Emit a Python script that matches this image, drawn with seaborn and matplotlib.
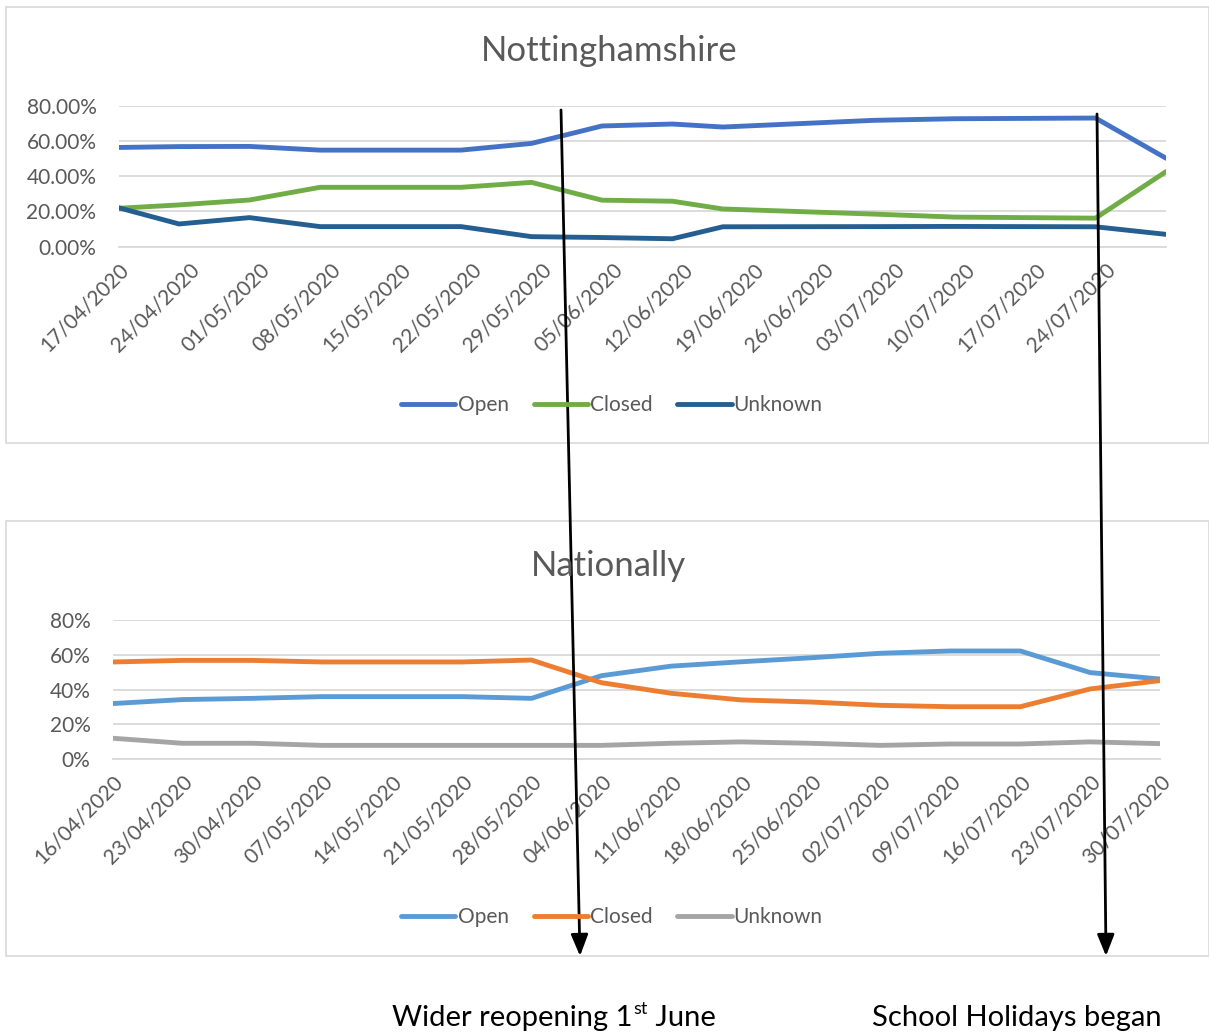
import matplotlib
matplotlib.use("Agg")
import matplotlib.pyplot as plt
import matplotlib.dates as mdates
from matplotlib.patches import Rectangle, FancyArrowPatch
from matplotlib.ticker import FuncFormatter, FixedLocator
import numpy as np
import pandas as pd
import seaborn as sns

# ---------------- data ----------------
series_names = ["Open", "Closed", "Unknown"]

notts_dates = ["17/04/2020", "23/04/2020", "30/04/2020", "07/05/2020", "14/05/2020",
               "21/05/2020", "28/05/2020", "04/06/2020", "11/06/2020", "16/06/2020",
               "01/07/2020", "09/07/2020", "23/07/2020", "30/07/2020"]
notts_open = [56.3, 56.8, 56.9, 54.8, 54.8, 54.8, 58.6, 68.5, 69.6, 67.9, 71.7, 72.6, 73.0, 50.2]
notts_closed = [21.8, 23.7, 26.5, 33.7, 33.7, 33.7, 36.5, 26.4, 25.8, 21.4, 18.5, 16.8, 16.2, 42.6]
notts_unknown = [22.1, 12.9, 16.5, 11.4, 11.4, 11.4, 5.7, 5.2, 4.5, 11.3, 11.4, 11.5, 11.3, 7.0]
notts_tick_labels = ["17/04/2020", "24/04/2020", "01/05/2020", "08/05/2020", "15/05/2020",
                     "22/05/2020", "29/05/2020", "05/06/2020", "12/06/2020", "19/06/2020",
                     "26/06/2020", "03/07/2020", "10/07/2020", "17/07/2020", "24/07/2020"]

nat_dates = ["16/04/2020", "23/04/2020", "30/04/2020", "07/05/2020", "14/05/2020",
             "21/05/2020", "28/05/2020", "04/06/2020", "11/06/2020", "18/06/2020",
             "25/06/2020", "02/07/2020", "09/07/2020", "16/07/2020", "23/07/2020", "30/07/2020"]
nat_open = [32.0, 34.3, 35.0, 36.0, 36.0, 36.0, 35.0, 48.0, 53.5, 56.0, 58.3, 60.9, 62.2, 62.2, 49.8, 46.1]
nat_closed = [55.9, 56.8, 56.8, 55.9, 55.9, 55.9, 57.0, 44.0, 37.9, 34.1, 32.9, 31.0, 30.2, 30.2, 40.4, 45.2]
nat_unknown = [12.1, 9.2, 9.2, 8.0, 8.0, 8.0, 8.0, 8.0, 9.2, 10.0, 9.2, 8.0, 8.8, 8.8, 10.0, 9.0]
nat_tick_labels = nat_dates

notts_colors = ["#4472C4", "#70AD47", "#255E91"]
nat_colors = ["#5B9BD5", "#ED7D31", "#A5A5A5"]

# ---------------- style ----------------
sns.set_theme(style="white")
plt.rcParams["font.family"] = ["Lato", "DejaVu Sans"]
TEXT = "#595959"
GRID = "#D9D9D9"
LABEL_SIZE = 15

W, H = 1209, 1034
fig = plt.figure(figsize=(W / 100, H / 100), dpi=100)
fig.patch.set_facecolor("white")


def fx(px):
    return px / W


def fy(py):
    return 1 - py / H


def long_frame(dates, values):
    d = pd.to_datetime(dates, dayfirst=True)
    parts = []
    for name, vals in zip(series_names, values):
        parts.append(pd.DataFrame({"date": d, "pct": vals, "status": name}))
    return pd.concat(parts, ignore_index=True)


def draw_panel(box, axbox, title, df, colors, tick_labels, x_end, yfmt, title_y, legend_y):
    # chart-area frame
    fig.add_artist(Rectangle((fx(box[0]), fy(box[3])), fx(box[2] - box[0]), (box[3] - box[1]) / H,
                             transform=fig.transFigure, fill=False, edgecolor=GRID, lw=1.2))
    l, t, r, b = axbox
    ax = fig.add_axes([fx(l), fy(b), fx(r - l), (b - t) / H])
    sns.lineplot(data=df, x="date", y="pct", hue="status", hue_order=series_names,
                 palette=colors, linewidth=3.5, ax=ax, legend=False,
                 solid_capstyle="round", solid_joinstyle="round")
    start = pd.to_datetime(tick_labels[0], dayfirst=True)
    end = pd.to_datetime(x_end, dayfirst=True)
    ax.set_xlim(mdates.date2num(start), mdates.date2num(end))
    ax.set_ylim(0, 80)
    ax.set_yticks([0, 20, 40, 60, 80])
    ax.yaxis.set_major_formatter(FuncFormatter(yfmt))
    tick_pos = [mdates.date2num(pd.to_datetime(s, dayfirst=True)) for s in tick_labels]
    labels = list(tick_labels)
    if tick_pos[-1] < mdates.date2num(end) - 0.5:
        tick_pos.append(mdates.date2num(end))
        labels.append("")
    ax.xaxis.set_major_locator(FixedLocator(tick_pos))
    ax.set_xticklabels(labels)
    ax.grid(axis="y", color=GRID, lw=1.3)
    ax.grid(axis="x", visible=False)
    for s in ["top", "right", "left"]:
        ax.spines[s].set_visible(False)
    ax.spines["bottom"].set_color(GRID)
    ax.spines["bottom"].set_linewidth(1.3)
    ax.tick_params(axis="x", length=7, width=1.3, color=GRID, direction="out", pad=2,
                   labelsize=LABEL_SIZE, labelcolor=TEXT)
    ax.tick_params(axis="y", length=0, pad=16, labelsize=LABEL_SIZE, labelcolor=TEXT)
    for lab in ax.get_xticklabels():
        lab.set_rotation(45)
        lab.set_ha("right")
        lab.set_va("top")
        lab.set_rotation_mode("anchor")
    ax.set_xlabel("")
    ax.set_ylabel("")
    ax.set_facecolor("none")

    fig.text(0.5035, fy(title_y), title, ha="center", va="center", fontsize=25, color=TEXT)

    handles = [plt.Line2D([], [], color=c, lw=3.5, solid_capstyle="round") for c in colors]
    fig.legend(handles, series_names, loc="center", bbox_to_anchor=(fx(612), fy(legend_y)),
               ncol=3, frameon=False, fontsize=LABEL_SIZE, labelcolor=TEXT, handlelength=2.6,
               handletextpad=0.1, columnspacing=1.2)
    return ax


notts_df = long_frame(notts_dates, [notts_open, notts_closed, notts_unknown])
nat_df = long_frame(nat_dates, [nat_open, nat_closed, nat_unknown])

draw_panel((6, 7, 1209, 443), (118.6, 105.7, 1166, 246.7), "Nottinghamshire", notts_df,
           notts_colors, notts_tick_labels, "30/07/2020", lambda v, p: f"{v:.2f}%",
           title_y=51, legend_y=405)
draw_panel((6, 521, 1209, 956), (112.6, 620, 1160, 759.3), "Nationally", nat_df,
           nat_colors, nat_tick_labels, "30/07/2020", lambda v, p: f"{v:.0f}%",
           title_y=566, legend_y=917)

# annotation arrows spanning both charts
for (x0, y0), (x1, y1) in [((561, 110), (580, 956)), ((1097, 114), (1106, 956))]:
    fig.add_artist(FancyArrowPatch((fx(x0), fy(y0)), (fx(x1), fy(y1)), transform=fig.transFigure,
                                   arrowstyle="-|>,head_length=0.65,head_width=0.26",
                                   mutation_scale=20, lw=2, color="black",
                                   shrinkA=0, shrinkB=0))

# captions under the charts
fig.canvas.draw()
renderer = fig.canvas.get_renderer()
base_y = fy(1018)
CAP = 21
t1 = fig.text(fx(392), base_y, "Wider reopening 1", ha="left", va="center", fontsize=CAP, color="black")
bb = t1.get_window_extent(renderer)
t2 = fig.text(bb.x1 / W + 0.001, base_y + 0.009, "st", ha="left", va="center", fontsize=13, color="black")
bb2 = t2.get_window_extent(renderer)
fig.text(bb2.x1 / W, base_y, " June", ha="left", va="center", fontsize=CAP, color="black")
fig.text(fx(872), base_y, "School Holidays began", ha="left", va="center", fontsize=CAP, color="black")

fig.savefig("out.png", dpi=100, facecolor="white")
